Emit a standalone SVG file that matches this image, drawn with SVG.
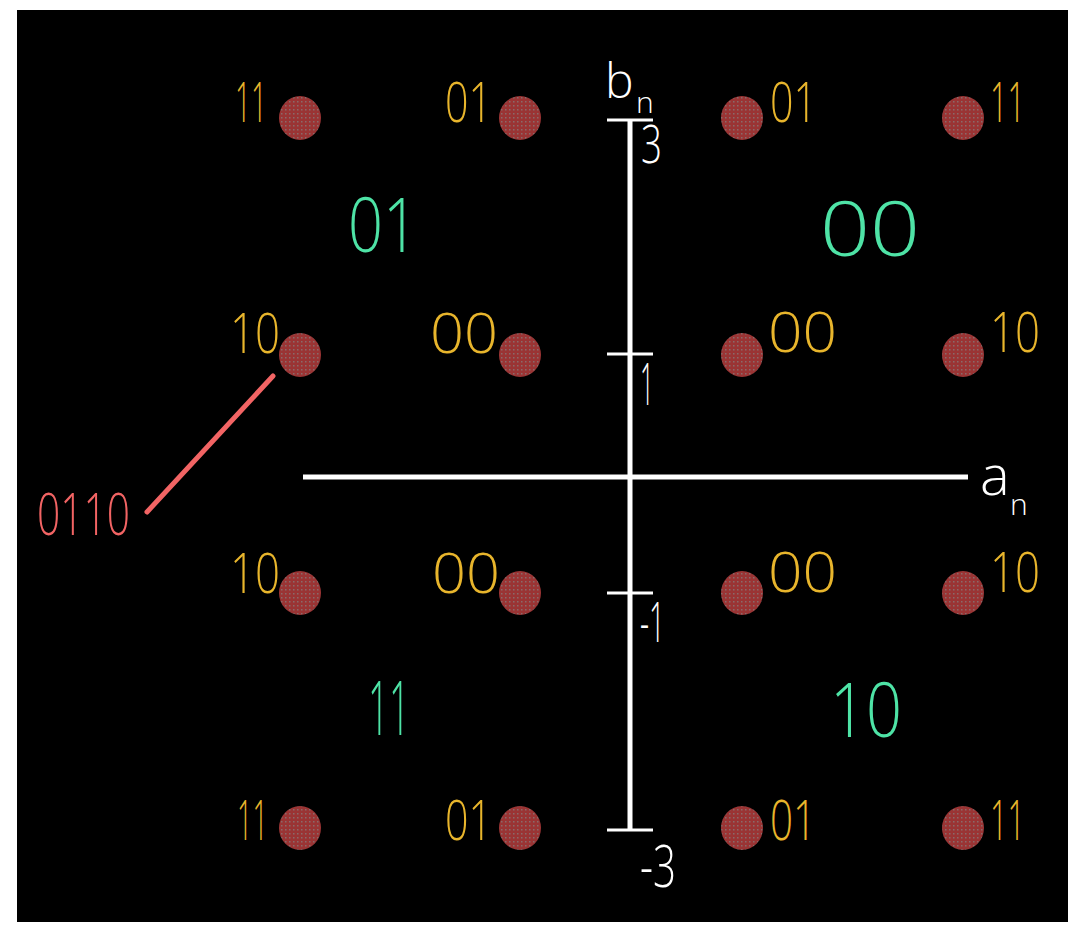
<svg xmlns="http://www.w3.org/2000/svg" width="1072" height="925" viewBox="0 0 1072 925">
<style>
.y{font-family:"Open Sans","Liberation Sans",sans-serif;font-weight:300;font-size:56px;fill:#e8b52c}
.g{font-family:"Open Sans","Liberation Sans",sans-serif;font-weight:300;font-size:75px;fill:#4ee3a6}
.w{font-family:"Open Sans","Liberation Sans",sans-serif;font-weight:300;fill:#ffffff}
.r{font-family:"Open Sans","Liberation Sans",sans-serif;font-weight:300;font-size:58px;fill:#f26464}
.dot{fill:url(#dith)}
.ax{stroke:#ffffff;stroke-width:5;fill:none}
.tk{stroke:#ffffff;stroke-width:3;fill:none}
</style>
<defs>
<pattern id="dith" width="4" height="4" patternUnits="userSpaceOnUse">
<rect width="4" height="4" fill="#9a3434"/>
<rect x="1" y="1" width="1.5" height="1.5" fill="#8a6a6a"/>
</pattern>
</defs>
<rect x="0" y="0" width="1072" height="925" fill="#ffffff"/>
<rect x="17" y="10" width="1051" height="912" fill="#000000"/>
<g id="axes">
<line class="ax" x1="630" y1="120" x2="630" y2="830"/>
<line class="ax" x1="303" y1="477" x2="968" y2="477"/>
<line class="tk" x1="607" y1="120" x2="653" y2="120"/>
<line class="tk" x1="607" y1="354" x2="653" y2="354"/>
<line class="tk" x1="607" y1="593" x2="653" y2="593"/>
<line class="tk" x1="607" y1="830" x2="653" y2="830"/>
<text class="w" x="605" y="98" font-size="48">b</text>
<text class="w" x="636" y="113" font-size="30">n</text>
<text class="w" x="980" y="495" font-size="56">a</text>
<text class="w" x="1010" y="515" font-size="30">n</text>
<text class="w" x="641" y="163" font-size="53" textLength="21" lengthAdjust="spacingAndGlyphs">3</text>
<text class="w" x="640" y="405" font-size="58" textLength="14" lengthAdjust="spacingAndGlyphs">1</text>
<text class="w" x="640" y="642" font-size="55" textLength="25" lengthAdjust="spacingAndGlyphs">-1</text>
<text class="w" x="640" y="887" font-size="58" textLength="36" lengthAdjust="spacingAndGlyphs">-3</text>
</g>
<g id="points">
<ellipse class="dot" cx="300" cy="118" rx="21" ry="22"/>
<ellipse class="dot" cx="520" cy="118" rx="21" ry="22"/>
<ellipse class="dot" cx="742" cy="118" rx="21" ry="22"/>
<ellipse class="dot" cx="963" cy="118" rx="21" ry="22"/>
<ellipse class="dot" cx="300" cy="355" rx="21" ry="22"/>
<ellipse class="dot" cx="520" cy="355" rx="21" ry="22"/>
<ellipse class="dot" cx="742" cy="355" rx="21" ry="22"/>
<ellipse class="dot" cx="963" cy="355" rx="21" ry="22"/>
<ellipse class="dot" cx="300" cy="593" rx="21" ry="22"/>
<ellipse class="dot" cx="520" cy="593" rx="21" ry="22"/>
<ellipse class="dot" cx="742" cy="593" rx="21" ry="22"/>
<ellipse class="dot" cx="963" cy="593" rx="21" ry="22"/>
<ellipse class="dot" cx="300" cy="828" rx="21" ry="22"/>
<ellipse class="dot" cx="520" cy="828" rx="21" ry="22"/>
<ellipse class="dot" cx="742" cy="828" rx="21" ry="22"/>
<ellipse class="dot" cx="963" cy="828" rx="21" ry="22"/>
</g>
<g id="point-labels">
<text class="y" x="235" y="122" textLength="32" lengthAdjust="spacingAndGlyphs">11</text>
<text class="y" x="445" y="122" textLength="47" lengthAdjust="spacingAndGlyphs">01</text>
<text class="y" x="770" y="122" textLength="47" lengthAdjust="spacingAndGlyphs">01</text>
<text class="y" x="990" y="122" textLength="35" lengthAdjust="spacingAndGlyphs">11</text>
<text class="y" x="230" y="353" textLength="50" lengthAdjust="spacingAndGlyphs">10</text>
<text class="y" x="430" y="353" textLength="68" lengthAdjust="spacingAndGlyphs">00</text>
<text class="y" x="768" y="352" textLength="69" lengthAdjust="spacingAndGlyphs">00</text>
<text class="y" x="990" y="352" textLength="50" lengthAdjust="spacingAndGlyphs">10</text>
<text class="y" x="230" y="593" textLength="50" lengthAdjust="spacingAndGlyphs">10</text>
<text class="y" x="432" y="593" textLength="68" lengthAdjust="spacingAndGlyphs">00</text>
<text class="y" x="768" y="592" textLength="69" lengthAdjust="spacingAndGlyphs">00</text>
<text class="y" x="990" y="592" textLength="50" lengthAdjust="spacingAndGlyphs">10</text>
<text class="y" x="237" y="840" textLength="31" lengthAdjust="spacingAndGlyphs">11</text>
<text class="y" x="445" y="840" textLength="47" lengthAdjust="spacingAndGlyphs">01</text>
<text class="y" x="770" y="840" textLength="46" lengthAdjust="spacingAndGlyphs">01</text>
<text class="y" x="990" y="840" textLength="35" lengthAdjust="spacingAndGlyphs">11</text>
</g>
<g id="quadrant-labels">
<text class="g" x="348" y="252" textLength="70" lengthAdjust="spacingAndGlyphs">01</text>
<text class="g" x="820" y="256" textLength="100" lengthAdjust="spacingAndGlyphs">00</text>
<text class="g" x="368" y="735" textLength="42" lengthAdjust="spacingAndGlyphs">11</text>
<text class="g" x="830" y="737" textLength="72" lengthAdjust="spacingAndGlyphs">10</text>
</g>
<g id="connectors">
<line x1="147" y1="512" x2="273" y2="376" stroke="#f26464" stroke-width="5" stroke-linecap="round"/>
</g>
<g id="callout">
<text class="r" x="37" y="535" textLength="93" lengthAdjust="spacingAndGlyphs">0110</text>
</g>
</svg>
